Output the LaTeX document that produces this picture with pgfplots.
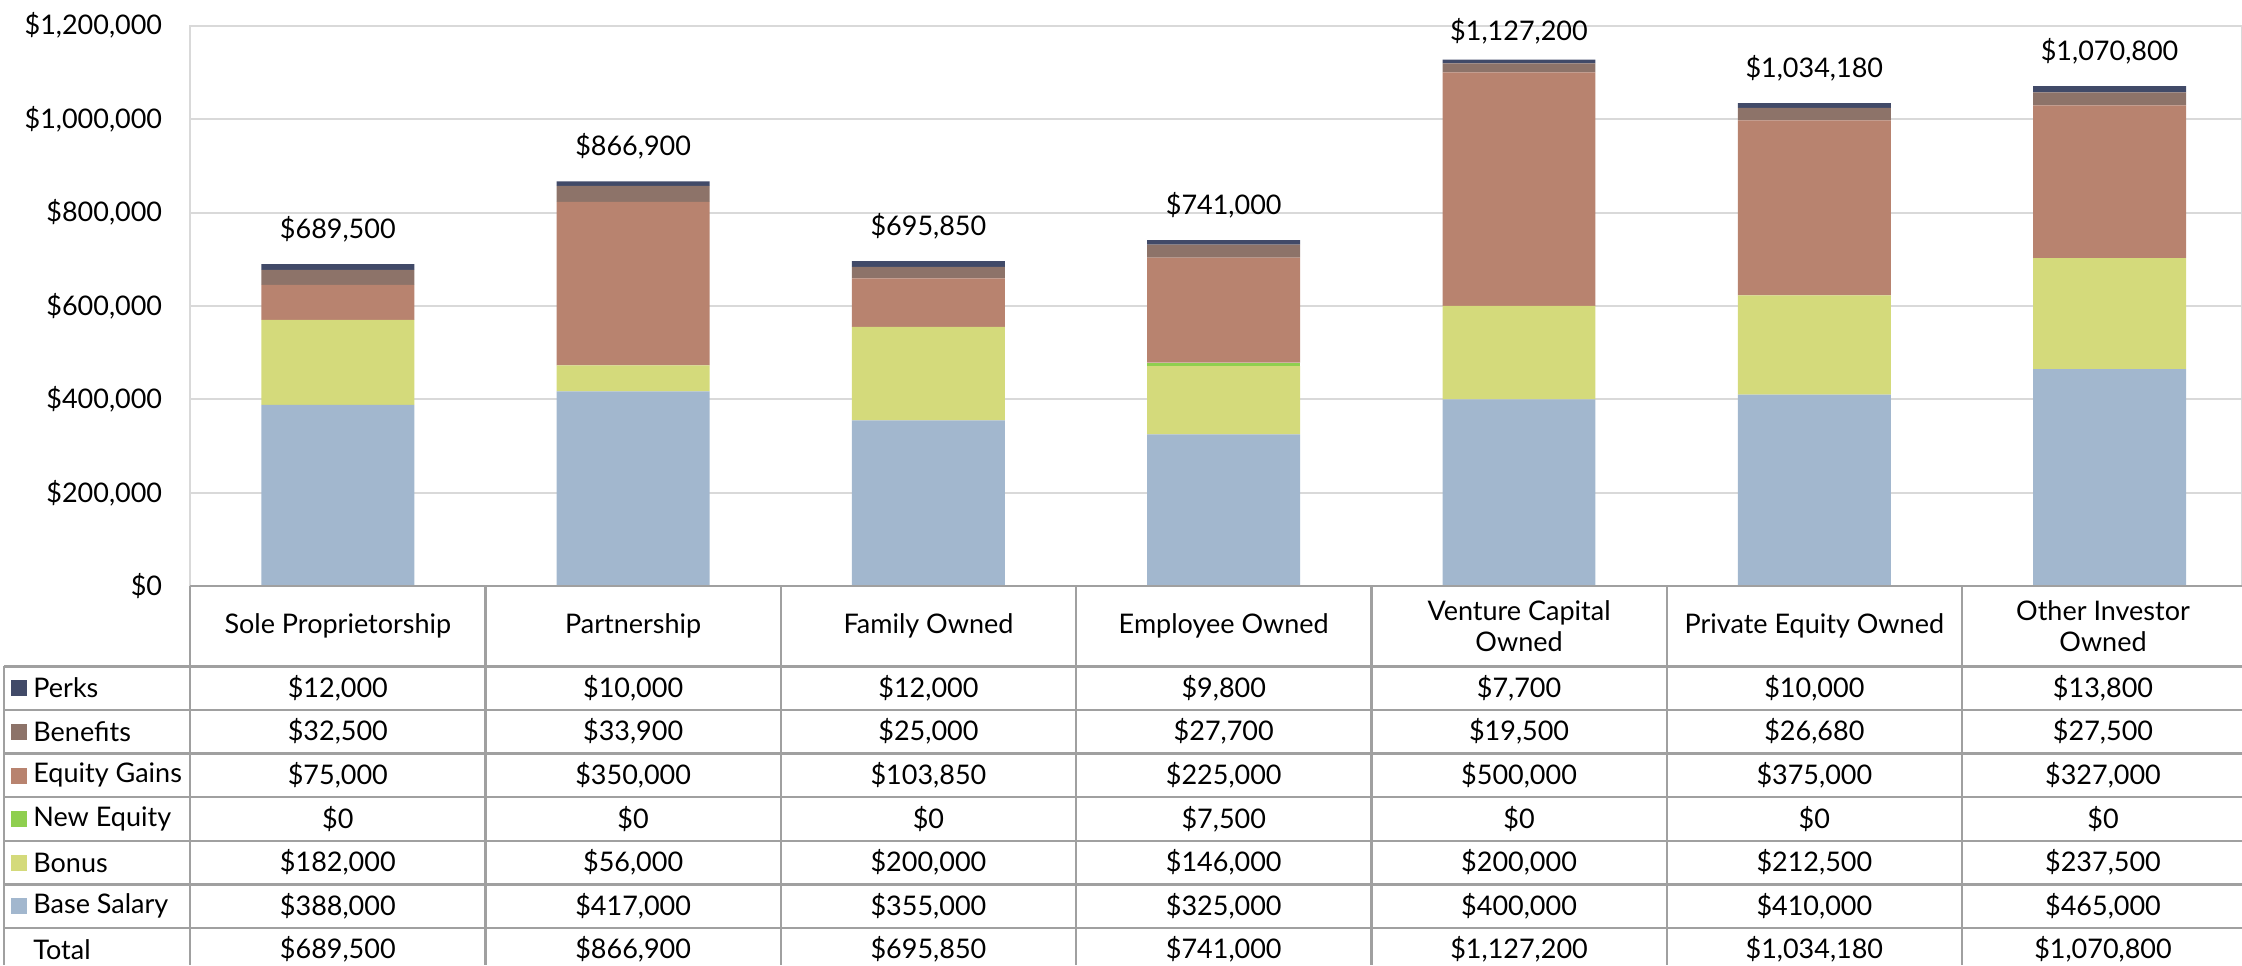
\documentclass[border=0pt]{standalone}
\usepackage{fontspec}
\setmainfont{Lato}
\usepackage{pgfplots}
\pgfplotsset{compat=1.18}
\definecolor{cBase}{HTML}{A2B7CE}
\definecolor{cBonus}{HTML}{D4DA7B}
\definecolor{cNew}{HTML}{8FCF4F}
\definecolor{cEquity}{HTML}{B8836F}
\definecolor{cBen}{HTML}{8D7369}
\definecolor{cPerks}{HTML}{414A68}
\definecolor{tgray}{HTML}{A0A0A0}
\definecolor{ggray}{HTML}{D9D9D9}
\newcommand\trow[8]{%
  \node at (337.85,{688.1+43.6*#1}) {#2};
  \node at (633.15,{688.1+43.6*#1}) {#3};
  \node at (928.45,{688.1+43.6*#1}) {#4};
  \node at (1223.75,{688.1+43.6*#1}) {#5};
  \node at (1519.05,{688.1+43.6*#1}) {#6};
  \node at (1814.35,{688.1+43.6*#1}) {#7};
  \node at (2103,{688.1+43.6*#1}) {#8};
}
\newcommand\leg[3]{%
  \fill[#2] (11,{680.3+43.6*#1}) rectangle (27,{696.3+43.6*#1});
  \node[anchor=west, inner sep=0pt] at (33,{688.1+43.6*#1}) {#3};
}
\pgfplotsset{common/.style={
  at={(95.1pt,189.4pt)}, anchor=south west,
  scale only axis, width=1026pt, height=280.25pt,
  xmin=-0.5, xmax=6.449, ymin=0, ymax=1200000, clip=false}}
\begin{document}
\begin{tikzpicture}[font=\fontsize{13.5}{15.5}\selectfont]
\useasboundingbox (0,0) rectangle (1121pt,482.5pt);
\begin{axis}[
  common,
  ybar stacked, bar width=0.518,
  xtick=\empty,
  ytick={0,200000,400000,600000,800000,1000000,1200000},
  scaled y ticks=false,
  yticklabel={\$\pgfmathprintnumber[fixed,precision=0,1000 sep={,}]{\tick}},
  /pgf/number format/assume math mode=true,
  yticklabel style={xshift=-10.5pt},
  ymajorgrids, grid style={ggray, line width=1pt},
  axis line style={ggray, line width=1pt},
  major tick length=0pt,
]
\addplot[fill=cBase, draw=none] coordinates {(0,388000) (1,417000) (2,355000) (3,325000) (4,400000) (5,410000) (6,465000)};
\addplot[fill=cBonus, draw=none] coordinates {(0,182000) (1,56000) (2,200000) (3,146000) (4,200000) (5,212500) (6,237500)};
\addplot[fill=cNew, draw=none] coordinates {(0,0) (1,0) (2,0) (3,7500) (4,0) (5,0) (6,0)};
\addplot[fill=cEquity, draw=none] coordinates {(0,75000) (1,350000) (2,103850) (3,225000) (4,500000) (5,375000) (6,327000)};
\addplot[fill=cBen, draw=none] coordinates {(0,32500) (1,33900) (2,25000) (3,27700) (4,19500) (5,26680) (6,27500)};
\addplot[fill=cPerks, draw=none] coordinates {(0,12000) (1,10000) (2,12000) (3,9800) (4,7700) (5,10000) (6,13800)};
\end{axis}
\begin{axis}[common, hide axis]
\addplot[draw=none, mark=none, point meta=explicit symbolic, nodes near coords,
  nodes near coords style={anchor=center, yshift=17.5pt, text=black}]
  coordinates {(0,689500) [\$689,500] (1,866900) [\$866,900] (2,695850) [\$695,850] (3,741000) [\$741,000] (5,1034180) [\$1,034,180] (6,1070800) [\$1,070,800]};
\addplot[draw=none, mark=none, point meta=explicit symbolic, nodes near coords,
  nodes near coords style={anchor=center, yshift=14pt, text=black}]
  coordinates {(4,1127200) [\$1,127,200]};
\end{axis}
\begin{scope}[x=0.5pt,y=-0.5pt,yshift=482.5pt]
% table grid
\draw[tgray, line width=1.2pt] (190.2,586.2) -- (2242,586.2);
\foreach \k in {0,...,7} \draw[tgray, line width=1.2pt] (4,{666.3+43.6*\k}) -- (2242,{666.3+43.6*\k});
\draw[tgray, line width=1.2pt] (4,666.3) -- (4,965);
\foreach \i in {0,...,6} \draw[tgray, line width=1.2pt] ({190.2+295.3*\i},586.2) -- ({190.2+295.3*\i},965);
% header
\node at (337.85,626) {Sole Proprietorship};
\node at (633.15,626) {Partnership};
\node at (928.45,626) {Family Owned};
\node at (1223.75,626) {Employee Owned};
\node[align=center] at (1519.05,626) {Venture Capital\\Owned};
\node at (1814.35,626) {Private Equity Owned};
\node[align=center] at (2103,626) {Other Investor\\Owned};
% legend column
\leg{0}{cPerks}{Perks}
\leg{1}{cBen}{Benefits}
\leg{2}{cEquity}{Equity Gains}
\leg{3}{cNew}{New Equity}
\leg{4}{cBonus}{Bonus}
\leg{5}{cBase}{Base Salary}
\node[anchor=west, inner sep=0pt] at (33,{688.1+43.6*6}) {Total};
% values
\trow{0}{\$12,000}{\$10,000}{\$12,000}{\$9,800}{\$7,700}{\$10,000}{\$13,800}
\trow{1}{\$32,500}{\$33,900}{\$25,000}{\$27,700}{\$19,500}{\$26,680}{\$27,500}
\trow{2}{\$75,000}{\$350,000}{\$103,850}{\$225,000}{\$500,000}{\$375,000}{\$327,000}
\trow{3}{\$0}{\$0}{\$0}{\$7,500}{\$0}{\$0}{\$0}
\trow{4}{\$182,000}{\$56,000}{\$200,000}{\$146,000}{\$200,000}{\$212,500}{\$237,500}
\trow{5}{\$388,000}{\$417,000}{\$355,000}{\$325,000}{\$400,000}{\$410,000}{\$465,000}
\trow{6}{\$689,500}{\$866,900}{\$695,850}{\$741,000}{\$1,127,200}{\$1,034,180}{\$1,070,800}
\end{scope}
\end{tikzpicture}
\end{document}
